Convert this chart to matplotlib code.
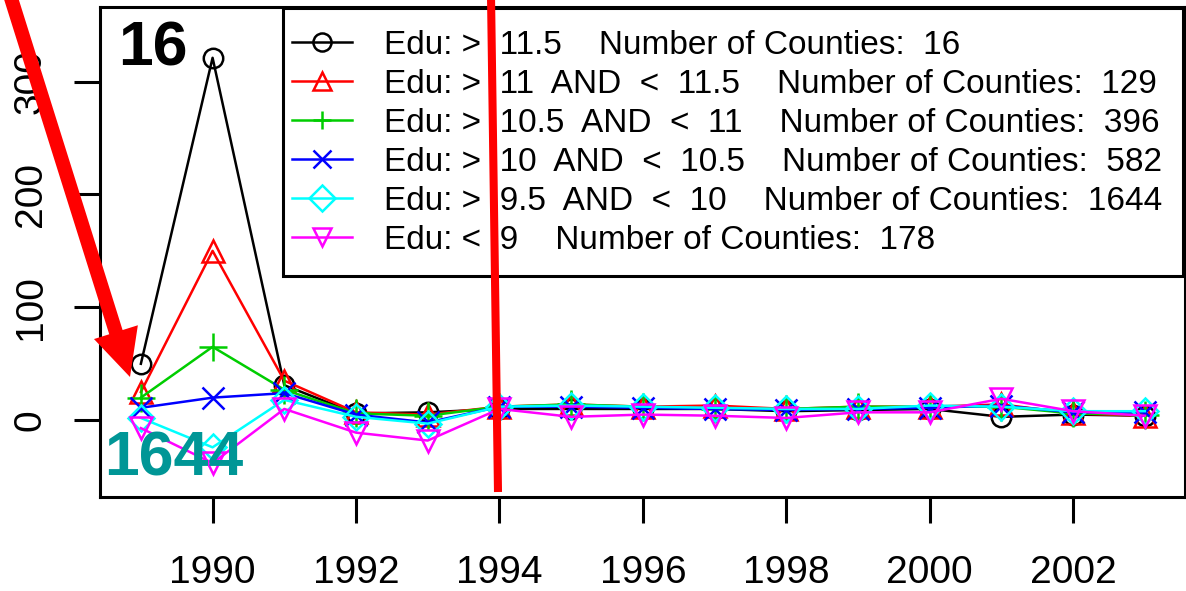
import matplotlib
matplotlib.use('Agg')
import matplotlib.pyplot as plt
import matplotlib.patches as mpatches
from matplotlib.lines import Line2D
import numpy as np

plt.rcParams['font.family'] = ['Liberation Sans', 'DejaVu Sans']

years = list(range(1989, 2004))

edu_ranges = [">  11.5", ">  11  AND  <  11.5", ">  10.5  AND  <  11",
              ">  10  AND  <  10.5", ">  9.5  AND  <  10", "<  9"]
county_counts = [16, 129, 396, 582, 1644, 178]

edu_above_11_5 = [50, 321, 31, 6, 7, 10, 10, 10, 10, 8, 9, 10, 3, 5, 4]
edu_11_to_11_5 = [25, 150, 35, 7, 5, 12, 14, 12, 13, 10, 12, 12, 14, 6, 4]
edu_10_5_to_11 = [20, 65, 27, 6, 4, 12, 14, 12, 10, 10, 12, 12, 12, 6, 5]
edu_10_to_10_5 = [11, 20, 24, 5, -2, 12, 12, 11, 10, 9, 10, 11, 13, 7, 7]
edu_9_5_to_10 = [2, -24, 18, 3, -3, 12, 13, 12, 11, 10, 10, 13, 12, 8, 8]
edu_below_9 = [-7, -38, 10, -11, -18, 10, 3, 5, 4, 2, 7, 7, 19, 8, 4]

series = [edu_above_11_5, edu_11_to_11_5, edu_10_5_to_11,
          edu_10_to_10_5, edu_9_5_to_10, edu_below_9]
colors = ['black', '#FF0000', '#00CD00', '#0000FF', '#00FFFF', '#FF00FF']
markers = ['o', '^', '+', 'x', 'D', 'v']
msizes = [14, 16, 20, 16, 13, 16]

labels = ["Edu: %s    Number of Counties:  %d" % (r, n)
          for r, n in zip(edu_ranges, county_counts)]

W, H = 1186, 591
fig = plt.figure(figsize=(W / 100, H / 100), dpi=100)
ax = fig.add_axes([100 / W, 1 - 497 / H, 1085 / W, 490 / H])


def px(x, y):
    return x / W, 1 - y / H


for y, c, m, s, lab in zip(series, colors, markers, msizes, labels):
    ax.plot(years, y, color=c, lw=1.8, marker=m, ms=s, mfc='none',
            mec=c, mew=1.8, label=lab)

ax.set_xlim(1988.43, 2003.56)
ax.set_ylim(-68, 366)
ax.set_xticks([1990, 1992, 1994, 1996, 1998, 2000, 2002])
ax.set_yticks([0, 100, 200, 300])
ax.tick_params(axis='both', length=19, width=2.2, labelsize=28, color='black')
ax.tick_params(axis='x', pad=23)
ax.tick_params(axis='y', pad=18)
for t in ax.get_yticklabels():
    t.set_rotation(90)
    t.set_va('center')
for sp in ax.spines.values():
    sp.set_linewidth(2.2)

# legend entries without frame; the box is drawn separately
leg = ax.legend(loc='upper left', bbox_to_anchor=px(292, 30),
                bbox_transform=fig.transFigure, borderaxespad=0,
                fontsize=24, frameon=False, handlelength=1.8,
                handletextpad=0.95, borderpad=0, labelspacing=0.24,
                numpoints=1)
for h in leg.legend_handles:
    h.set_markersize(13)
bx0, by0 = px(283, 276)
bx1, by1 = px(1183, 8)
ax.add_patch(mpatches.Rectangle((bx0, by0), bx1 - bx0, by1 - by0,
                                transform=fig.transFigure, fill=False,
                                edgecolor='black', lw=2.2, zorder=5))

# red pointer arrow
tail = np.array([10.0, -5.0])
tip = np.array([130.0, 377.0])
d = (tip - tail) / np.linalg.norm(tip - tail)
n = np.array([d[1], -d[0]])
base = tip - 47 * d
pts = [tail + 7 * n, base + 7 * n, base + 23 * n, tip,
       base - 23 * n, base - 7 * n, tail - 7 * n]
fig.add_artist(mpatches.Polygon([px(*p) for p in pts], closed=True,
                                transform=fig.transFigure, color='#FF0000',
                                lw=0, zorder=10))

# red vertical line
x0, y0 = px(491, -5)
x1, y1 = px(498, 492)
fig.add_artist(Line2D([x0, x1], [y0, y1], transform=fig.transFigure,
                      color='#FF0000', lw=5.8, solid_capstyle='butt',
                      zorder=10))

fig.text(*px(118, 65), "16", fontsize=45, fontweight='bold', color='black',
         ha='left', va='baseline', zorder=11)
fig.text(*px(104, 475), "1644", fontsize=45, fontweight='bold',
         color='#009696', ha='left', va='baseline', zorder=11)

fig.savefig('out.png', dpi=100)
